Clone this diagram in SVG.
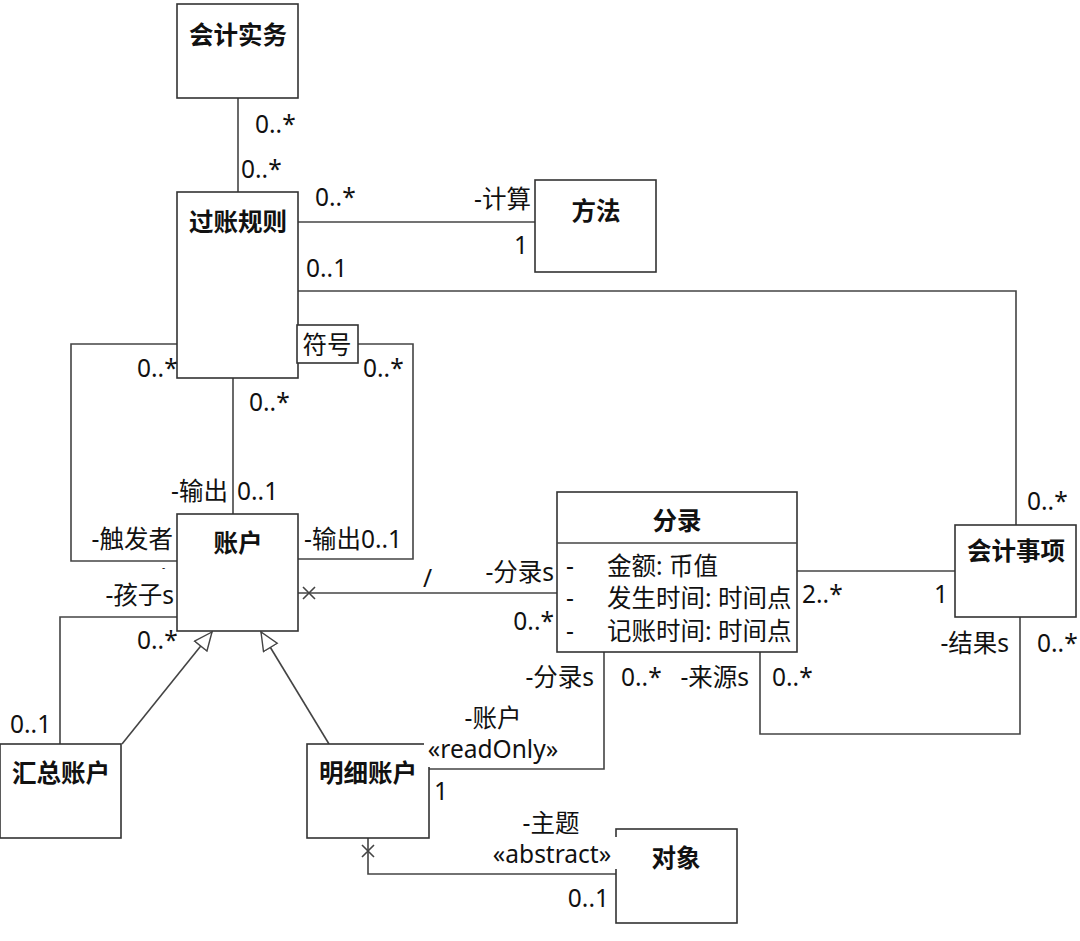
<svg xmlns="http://www.w3.org/2000/svg" width="1080" height="941" viewBox="0 0 1080 941">
<style>
.box{fill:#fff;stroke:#333;stroke-width:1.6}
.ln{fill:none;stroke:#444;stroke-width:1.6}
.t{font-family:"Noto Sans","Noto Sans CJK SC",sans-serif;font-size:24.5px;fill:#111}
.h{font-family:"Noto Sans CJK SC","Noto Sans",sans-serif;font-size:24.5px;font-weight:bold;fill:#111;text-anchor:middle}
.e{text-anchor:end}
.m{text-anchor:middle}
</style>
<defs>
<marker id="gen" viewBox="0 0 20 18" refX="19" refY="9" markerWidth="20" markerHeight="18" markerUnits="userSpaceOnUse" orient="auto">
<path d="M1,1 L19,9 L1,17 Z" fill="#fff" stroke="#444" stroke-width="1.4"/>
</marker>
</defs>
<rect width="1080" height="941" fill="#fff"/>

<g id="connectors">
<path class="ln" d="M238,98 V192"/>
<path class="ln" d="M298,222 H535"/>
<path class="ln" d="M298,291 H1016 V525"/>
<path class="ln" d="M177,344 H71 V561 H177"/>
<path class="ln" d="M233,378 V514"/>
<path class="ln" d="M358,344 H413 V559 H298"/>
<path class="ln" d="M177,617 H60 V744"/>
<path class="ln" d="M298,593 H557"/>
<path class="ln" d="M303,587 L315,599 M315,587 L303,599"/>
<path class="ln" d="M797,571 H955"/>
<path class="ln" d="M1020,617 V734 H760 V652"/>
<path class="ln" d="M604,652 V769 H429"/>
<path class="ln" d="M368,838 V874 H616"/>
<path class="ln" d="M362,845 L374,857 M374,845 L362,857"/>
<path class="ln" d="M122,744 L212,632" marker-end="url(#gen)"/>
<path class="ln" d="M329,744 L261,632" marker-end="url(#gen)"/>
</g>

<g id="n-kuaijishiwu"><rect class="box" x="177" y="4" width="121" height="94"/><text class="h" x="238" y="44">会计实务</text></g>
<g id="n-guozhangguize"><rect class="box" x="177" y="192" width="121" height="186"/><text class="h" x="238" y="231">过账规则</text></g>
<g id="n-fuhao"><rect class="box" x="297" y="325" width="61" height="38"/><text class="t m" x="327" y="354">符号</text></g>
<g id="n-fangfa"><rect class="box" x="535" y="180" width="121" height="92"/><text class="h" x="596" y="220">方法</text></g>
<g id="n-zhanghu"><rect class="box" x="177" y="514" width="121" height="117"/><text class="h" x="238" y="552">账户</text></g>
<g id="n-fenlu"><rect class="box" x="557" y="492" width="240" height="160"/><line class="ln" x1="557" y1="543" x2="797" y2="543"/><text class="h" x="677" y="530">分录</text>
<text class="t" x="566" y="575">-</text><text class="t" x="607" y="575">金额: 币值</text>
<text class="t" x="566" y="607">-</text><text class="t" x="607" y="607">发生时间: 时间点</text>
<text class="t" x="566" y="640">-</text><text class="t" x="607" y="640">记账时间: 时间点</text></g>
<g id="n-kuaijishixiang"><rect class="box" x="955" y="525" width="121" height="92"/><text class="h" x="1016" y="560">会计事项</text></g>
<g id="n-huizong"><rect class="box" x="0" y="744" width="121" height="94"/><text class="h" x="61" y="782">汇总账户</text></g>
<g id="n-mingxi"><rect class="box" x="307" y="744" width="122" height="94"/><text class="h" x="368" y="782">明细账户</text></g>
<g id="n-duixiang"><rect class="box" x="616" y="829" width="121" height="94"/><text class="h" x="676" y="867">对象</text></g>

<g id="labels">
<text class="t" x="255" y="133">0..*</text>
<text class="t" x="241" y="178">0..*</text>
<text class="t" x="315" y="206">0..*</text>
<text class="t e" x="531" y="208">-计算</text>
<text class="t e" x="528" y="254">1</text>
<text class="t" x="306" y="277">0..1</text>
<text class="t" x="1027" y="510">0..*</text>
<text class="t" x="137" y="377">0..*</text>
<text class="t" x="363" y="377">0..*</text>
<text class="t" x="249" y="411">0..*</text>
<text class="t e" x="228" y="500">-输出</text>
<text class="t" x="237" y="500">0..1</text>
<text class="t e" x="173" y="548">-触发者</text>
<text class="t" x="304" y="548">-输出0..1</text>
<text class="t" x="162" y="571" style="font-size:10px">-</text>
<text class="t e" x="174" y="604">-孩子s</text>
<text class="t" x="137" y="649">0..*</text>
<text class="t" x="10" y="733">0..1</text>
<text class="t" x="423" y="587">/</text>
<text class="t e" x="554" y="581">-分录s</text>
<text class="t e" x="554" y="630">0..*</text>
<text class="t" x="802" y="603">2..*</text>
<text class="t e" x="948" y="603">1</text>
<text class="t e" x="1009" y="652">-结果s</text>
<text class="t" x="1037" y="652">0..*</text>
<text class="t e" x="594" y="686">-分录s</text>
<text class="t" x="621" y="686">0..*</text>
<text class="t e" x="749" y="686">-来源s</text>
<text class="t" x="772" y="686">0..*</text>
<text class="t m" x="493" y="727">-账户</text>
<rect x="424" y="738" width="140" height="29" fill="#fff"/>
<text class="t m" x="493" y="758">«readOnly»</text>
<text class="t" x="434" y="800">1</text>
<text class="t m" x="551" y="832">-主题</text>
<rect x="488" y="837" width="129" height="32" fill="#fff"/>
<text class="t m" x="552" y="863">«abstract»</text>
<text class="t e" x="609" y="907">0..1</text>
</g>
</svg>
